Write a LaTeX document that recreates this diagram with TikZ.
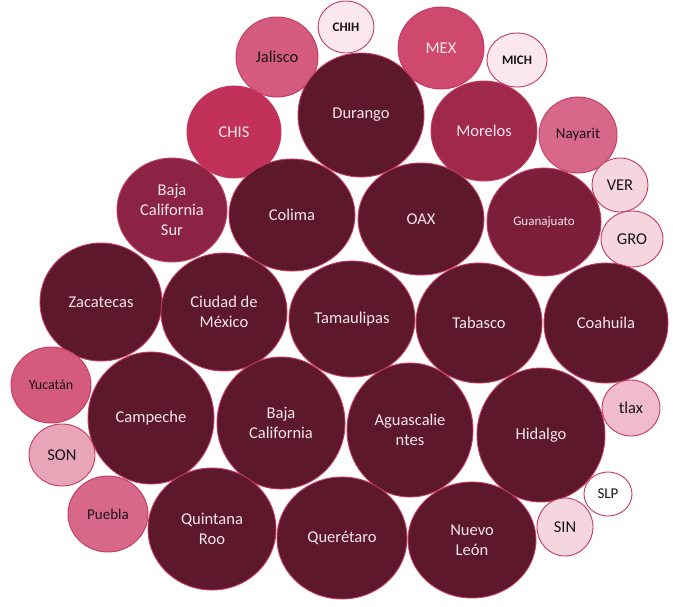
\documentclass[tikz,border=0pt]{standalone}
\usepackage{fontspec}
\setmainfont{Carlito}
\usetikzlibrary{shapes.geometric}
\definecolor{cDark}{RGB}{94, 24, 43}
\definecolor{cWine}{RGB}{122, 30, 58}
\definecolor{cPlum}{RGB}{140, 35, 68}
\definecolor{cBerry}{RGB}{160, 40, 75}
\definecolor{cCrimson}{RGB}{192, 48, 88}
\definecolor{cRoseDeep}{RGB}{207, 72, 110}
\definecolor{cRose}{RGB}{212, 90, 126}
\definecolor{cPink}{RGB}{216, 104, 138}
\definecolor{cSoft}{RGB}{232, 165, 184}
\definecolor{cLight}{RGB}{240, 188, 203}
\definecolor{cBlush}{RGB}{245, 214, 223}
\definecolor{cPale}{RGB}{250, 232, 238}
\definecolor{edgeColor}{RGB}{196, 58, 98}
\definecolor{txtLight}{RGB}{244, 230, 235}
\definecolor{txtDark}{RGB}{25, 20, 22}
\tikzset{
    % --- bubble ---
    bubble/.style={
        ellipse, draw=edgeColor, fill=#1, line width=0.9pt,
        inner sep=0pt, align=center,
        font=\fontsize{16.5}{20}\selectfont
    },
    % --- radii in px ---
    radii/.style 2 args={
        minimum width=2*#1pt, minimum height=2*#2pt
    },
    % big dark ones
    bigBubble/.style={bubble=cDark, text=txtLight},
    % light ones, dark text
    paleText/.style={text=txtDark},
    boldSmall/.style={font=\fontsize{13}{16}\selectfont\bfseries}
}

\begin{document}
\begin{tikzpicture}[x=1pt, y=-1pt]

	\useasboundingbox (0,0) rectangle (673,606);

	% =========================================
	% 1. top row
	% =========================================
	\node[bubble=cPale, paleText, boldSmall, radii={28}{26}] (chih) at (346,27) {CHIH};
	\node[bubble=cRose, paleText, radii={41}{40}] (jalisco) at (277,57) {Jalisco};
	\node[bubble=cRoseDeep, text=txtLight, radii={43}{41}] (mex) at (441,48) {MEX};
	\node[bubble=cPale, paleText, boldSmall, radii={30}{27}] (mich) at (517,60) {MICH};
	\node[bigBubble, radii={63}{62}] (durango) at (361,115) {Durango};
	\node[bubble=cCrimson, text=txtLight, radii={47}{46}] (chis) at (234,132) {CHIS};
	\node[bubble=cBerry, text=txtLight, radii={53}{50}] (morelos) at (484,131) {Morelos};
	\node[bubble=cPink, paleText, radii={39}{38}, font=\fontsize{15}{18}\selectfont] (nayarit) at (578,135) {Nayarit};

	% =========================================
	% 2. second row
	% =========================================
	\node[bubble=cPlum, text=txtLight, radii={55}{52}] (bcs) at (172,210) {Baja\\California\\Sur};
	\node[bigBubble, radii={63}{56}] (colima) at (292,215) {Colima};
	\node[bigBubble, radii={63}{56}] (oax) at (421,219) {OAX};
	\node[bubble=cWine, text=txtLight, radii={57}{54}, font=\fontsize{13}{16}\selectfont] (guanajuato) at (544,222) {Guanajuato};
	\node[bubble=cBlush, paleText, radii={28}{27}] (ver) at (620,185) {VER};
	\node[bubble=cBlush, paleText, radii={31}{28}] (gro) at (632,239) {GRO};

	% =========================================
	% 3. middle row
	% =========================================
	\node[bigBubble, radii={61}{59}] (zacatecas) at (101,302) {Zacatecas};
	\node[bigBubble, radii={63}{59}] (cdmx) at (224,312) {Ciudad de\\México};
	\node[bigBubble, radii={63}{58}] (tamaulipas) at (352,319) {Tamaulipas};
	\node[bigBubble, radii={63}{60}] (tabasco) at (479,323) {Tabasco};
	\node[bigBubble, radii={62}{60}] (coahuila) at (606,323) {Coahuila};

	% =========================================
	% 4. lower rows
	% =========================================
	\node[bubble=cRose, paleText, radii={40}{38}, font=\fontsize{14}{17}\selectfont] (yucatan) at (51,385) {Yucatán};
	\node[bubble=cSoft, paleText, radii={33}{31}] (son) at (62,455) {SON};
	\node[bubble=cPink, paleText, radii={40}{38}, font=\fontsize{15}{18}\selectfont] (puebla) at (108,514) {Puebla};
	\node[bigBubble, radii={63}{66}] (campeche) at (151,418) {Campeche};
	\node[bigBubble, radii={64}{66}] (bajacal) at (281,423) {Baja\\California};
	\node[bigBubble, radii={63}{67}] (aguascal) at (410,430) {Aguascalie\\ntes};
	\node[bigBubble, radii={64}{67}] (hidalgo) at (541,435) {Hidalgo};
	\node[bubble=cLight, paleText, radii={29}{28}] (tlax) at (631,408) {tlax};
	\node[bubble=white, paleText, radii={24}{22}, font=\fontsize{15}{18}\selectfont] (slp) at (608,494) {SLP};
	\node[bubble=cBlush, paleText, radii={28}{29}] (sin) at (565,527) {SIN};
	\node[bigBubble, radii={64}{61}] (quintana) at (212,529) {Quintana\\Roo};
	\node[bigBubble, radii={65}{61}] (queretaro) at (342,538) {Querétaro};
	\node[bigBubble, radii={64}{58}] (nuevoleon) at (472,540) {Nuevo\\León};

\end{tikzpicture}
\end{document}
